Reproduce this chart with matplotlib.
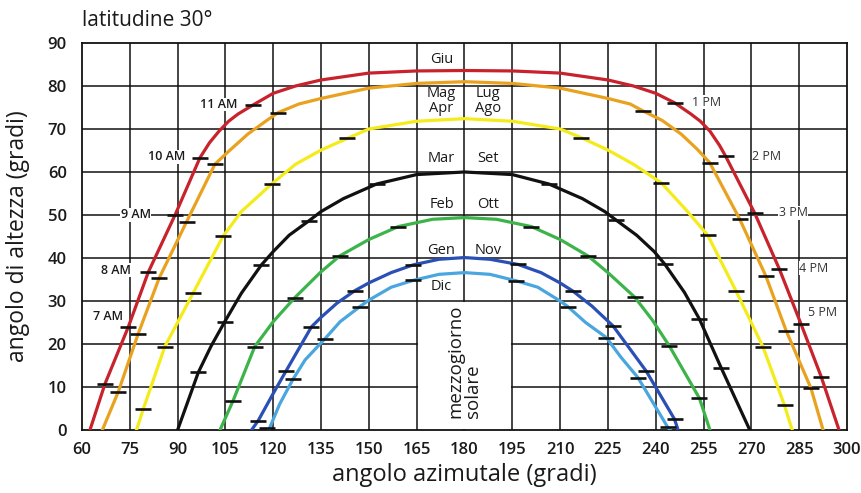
import matplotlib
matplotlib.use("Agg")
import matplotlib.pyplot as plt
from matplotlib.patches import Rectangle

plt.rcParams['font.family'] = ['Open Sans', 'DejaVu Sans']

# sun paths: azimuth (deg) vs altitude (deg)
giu_az = [62.5, 67.2, 74.5, 80.8, 89.2, 97, 100, 103, 106, 109, 113.7, 120, 127, 135, 150, 165, 180,
          195, 210, 225, 233, 240, 245.9, 251, 254, 257, 260, 261.9, 271, 278.8, 285.6, 291.9, 297.5]
giu_alt = [0, 10.7, 23.9, 36.7, 50, 63.3, 66.8, 69.5, 71.8, 73.5, 75.6, 78.3, 80, 81.4, 83, 83.5, 83.6,
           83.5, 83, 81.4, 80, 78.3, 76.1, 73.5, 71.8, 69.5, 66.2, 63.7, 50.5, 37.4, 24.6, 12.4, 0]

mag_az = [66.4, 71.4, 77.6, 84.2, 92.8, 101.7, 106, 112, 118, 121.5, 128, 135, 150, 165, 180,
          195, 210, 225, 232, 236, 242, 248, 253, 256.9, 266.3, 274.6, 280.9, 288.7, 292.5]
mag_alt = [0, 8.9, 22.3, 35.3, 48.4, 61.8, 64.8, 68.8, 72, 73.8, 75.8, 77.1, 79.5, 80.6, 81,
           80.6, 79.5, 77.1, 75.8, 74.2, 72, 68.8, 65.3, 62.2, 49.1, 35.7, 23.1, 9.7, 0]

apr_az = [77.1, 79.2, 86, 94.9, 104.3, 110, 119.5, 127, 135, 143.2, 150, 165, 180,
          195, 210, 216.6, 225, 233, 241.7, 249.5, 256.3, 265.2, 273.6, 280.4, 282.8]
apr_alt = [0, 4.8, 19.4, 31.9, 45.1, 50.8, 57.2, 61.8, 65.1, 67.8, 70, 71.8, 72.4,
           71.8, 70, 68, 65.1, 61.8, 57.5, 51.2, 45.3, 32.3, 19.4, 5.7, 0]

mar_az = [90, 96.5, 100.5, 104.8, 110, 116.3, 120, 125, 131.3, 135, 142, 152.4, 165, 180,
          195, 206.5, 217, 224, 227.6, 234, 239.5, 242.8, 249, 253.7, 260.5, 269.5]
mar_alt = [0, 13.4, 19.5, 25.2, 31.8, 38.4, 41.5, 45.3, 48.7, 50.8, 53.8, 57.2, 59.4, 60,
           59.4, 57.2, 53.8, 50.8, 48.8, 45.3, 41.5, 38.6, 32, 25.8, 14.5, 0]

feb_az = [103.3, 107.4, 114.2, 120, 126.8, 135, 140.9, 150, 159.2, 170, 180,
          190, 201, 210, 218.7, 225, 233.4, 239, 244.3, 253.7, 257]
feb_alt = [0, 6.8, 19.4, 25.2, 30.8, 36.8, 40.5, 44.3, 47.3, 49, 49.4,
           49, 47.3, 44.3, 40.5, 36.6, 30.9, 25.5, 19.5, 7.4, 0]

gen_az = [113.2, 115.3, 120, 124, 132, 135, 140, 145.6, 150, 157, 163.9, 172, 180,
          188, 196.8, 204, 210, 214, 220, 226.6, 237, 245.9, 247]
gen_alt = [0, 2.2, 8.5, 13.7, 24, 26.2, 29.5, 32.4, 34.2, 36.6, 38.4, 39.7, 40.1,
           39.7, 38.5, 36.6, 34.2, 32.3, 28.8, 24.2, 13.7, 2.5, 0]

dic_az = [118.6, 122, 126.2, 130, 136.2, 141, 147.2, 150, 157, 163.9, 172, 180,
          188, 196.2, 203, 210, 212.4, 218, 224.5, 229, 234.4, 243.8, 244.5]
dic_alt = [0, 6, 11.8, 16.3, 21.2, 25.2, 28.7, 30.2, 33.2, 34.8, 36.2, 36.6,
           36.2, 34.7, 33.2, 30, 28.7, 25, 21.5, 17, 12.2, 0.6, 0]

# hourly marks on each path
giu_tick_az = [67.2, 74.5, 80.8, 89.2, 97, 113.7, 245.9, 261.9, 271, 278.8, 285.6, 291.9]
giu_tick_alt = [10.7, 23.9, 36.7, 50, 63.3, 75.6, 76.1, 63.7, 50.5, 37.4, 24.6, 12.4]
mag_tick_az = [71.4, 77.6, 84.2, 92.8, 101.7, 121.5, 236, 256.9, 266.3, 274.6, 280.9, 288.7]
mag_tick_alt = [8.9, 22.3, 35.3, 48.4, 61.8, 73.8, 74.2, 62.2, 49.1, 35.7, 23.1, 9.7]
apr_tick_az = [79.2, 86, 94.9, 104.3, 119.5, 143.2, 216.6, 241.7, 256.3, 265.2, 273.6, 280.4]
apr_tick_alt = [4.8, 19.4, 31.9, 45.1, 57.2, 67.8, 68, 57.5, 45.3, 32.3, 19.4, 5.7]
mar_tick_az = [96.5, 104.8, 116.3, 131.3, 152.4, 206.5, 227.6, 242.8, 253.7, 260.5]
mar_tick_alt = [13.4, 25.2, 38.4, 48.7, 57.2, 57.2, 48.8, 38.6, 25.8, 14.5]
feb_tick_az = [107.4, 114.2, 126.8, 140.9, 159.2, 201, 218.7, 233.4, 244.3, 253.7]
feb_tick_alt = [6.8, 19.4, 30.8, 40.5, 47.3, 47.3, 40.5, 30.9, 19.5, 7.4]
gen_tick_az = [115.3, 124, 132, 145.6, 163.9, 196.8, 214, 226.6, 237, 245.9]
gen_tick_alt = [2.2, 13.7, 24, 32.4, 38.4, 38.5, 32.3, 24.2, 13.7, 2.5]
dic_tick_az = [118, 126.2, 136.2, 147.2, 163.9, 196.2, 212.4, 224.5, 234.4, 243.8]
dic_tick_alt = [0.4, 11.8, 21.2, 28.7, 34.8, 34.7, 28.7, 21.5, 12.2, 0.6]

paths = [
    (giu_az, giu_alt, giu_tick_az, giu_tick_alt, '#c8222c'),
    (mag_az, mag_alt, mag_tick_az, mag_tick_alt, '#e9a21f'),
    (apr_az, apr_alt, apr_tick_az, apr_tick_alt, '#f4ec1a'),
    (mar_az, mar_alt, mar_tick_az, mar_tick_alt, '#111111'),
    (feb_az, feb_alt, feb_tick_az, feb_tick_alt, '#3cb44a'),
    (gen_az, gen_alt, gen_tick_az, gen_tick_alt, '#2a4fb5'),
    (dic_az, dic_alt, dic_tick_az, dic_tick_alt, '#4aa6df'),
]

# month labels beside the noon line
left_months = ['Giu', 'Mag', 'Apr', 'Mar', 'Feb', 'Gen', 'Dic']
right_months = ['', 'Lug', 'Ago', 'Set', 'Ott', 'Nov', '']
month_alt = [86.2, 78.3, 74.8, 63.2, 52.5, 41.8, 33.3]

am_labels = ['7 AM', '8 AM', '9 AM', '10 AM', '11 AM']
am_az = [73, 75.2, 81.6, 92.5, 108.8]
am_alt = [26.3, 37.2, 50, 63.5, 75.7]
pm_labels = ['1 PM', '2 PM', '3 PM', '4 PM', '5 PM']
pm_az = [251.5, 270.2, 278.6, 285, 287.8]
pm_alt = [76.2, 63.7, 50.5, 37.6, 27.3]

fig = plt.figure(figsize=(8.62, 4.93), dpi=100)
ax = fig.add_axes([0.0951, 0.1278, 0.8875, 0.785])
ax.set_xlim(60, 300)
ax.set_ylim(0, 90)

# grid drawn by hand so the noon box can blank part of it
for gx in range(75, 300, 15):
    ax.axvline(gx, color='#111111', lw=1.1, zorder=1)
for gy in range(10, 90, 10):
    ax.axhline(gy, color='#111111', lw=1.1, zorder=1)
ax.add_patch(Rectangle((165.45, 0.3), 29.1, 29.4, facecolor='white', edgecolor='none', zorder=1.5))

for az, alt, taz, talt, col in paths:
    ax.plot(az, alt, color=col, lw=2.3, zorder=3, solid_joinstyle='round')
    ax.plot(taz, talt, linestyle='none', marker='_', markersize=11, mew=1.9,
            color='#111111', zorder=4)

for lab, yy in zip(left_months, month_alt):
    ax.text(172.8, yy, lab, fontsize=10.5, ha='center', va='center', color='#1a1a1a', zorder=5)
for lab, yy in zip(right_months, month_alt):
    ax.text(187.3, yy, lab, fontsize=10.5, ha='center', va='center', color='#1a1a1a', zorder=5)

for lab, xx, yy in zip(am_labels, am_az, am_alt):
    ax.text(xx, yy, lab, fontsize=9, fontweight='semibold', ha='right', va='center',
            color='#1a1a1a', zorder=5, bbox=dict(facecolor='white', edgecolor='none', pad=0.3))
for lab, xx, yy in zip(pm_labels, pm_az, pm_alt):
    ax.text(xx, yy, lab, fontsize=9, ha='left', va='center', color='#333333', zorder=5,
            bbox=dict(facecolor='white', edgecolor='none', pad=0.3))

ax.text(180, 2.8, 'mezzogiorno\nsolare', fontsize=13.5, rotation=90, ha='center', va='bottom',
        multialignment='left', linespacing=1.0, color='#1a1a1a', zorder=5)

ax.set_xticks(range(60, 301, 15))
ax.set_yticks(range(0, 91, 10))
ax.tick_params(length=0, labelsize=12, colors='#1a1a1a')
ax.tick_params(axis='x', pad=9)
ax.tick_params(axis='y', pad=11)
for lbl in ax.get_xticklabels() + ax.get_yticklabels():
    lbl.set_fontweight('semibold')
for sp in ax.spines.values():
    sp.set_color('#111111')
    sp.set_linewidth(1.3)

ax.set_xlabel('angolo azimutale (gradi)', fontsize=17, color='#1a1a1a')
ax.set_ylabel('angolo di altezza (gradi)', fontsize=16.5, color='#1a1a1a')
ax.xaxis.set_label_coords(0.5, -0.116)
ax.xaxis.label.set_va('center')
ax.yaxis.set_label_coords(-0.084, 0.5)
ax.yaxis.label.set_va('center')
fig.text(0.0951, 0.958, 'latitudine 30°', fontsize=15, ha='left', va='center', color='#1a1a1a')

fig.savefig('out.png', dpi=100, facecolor='white')
